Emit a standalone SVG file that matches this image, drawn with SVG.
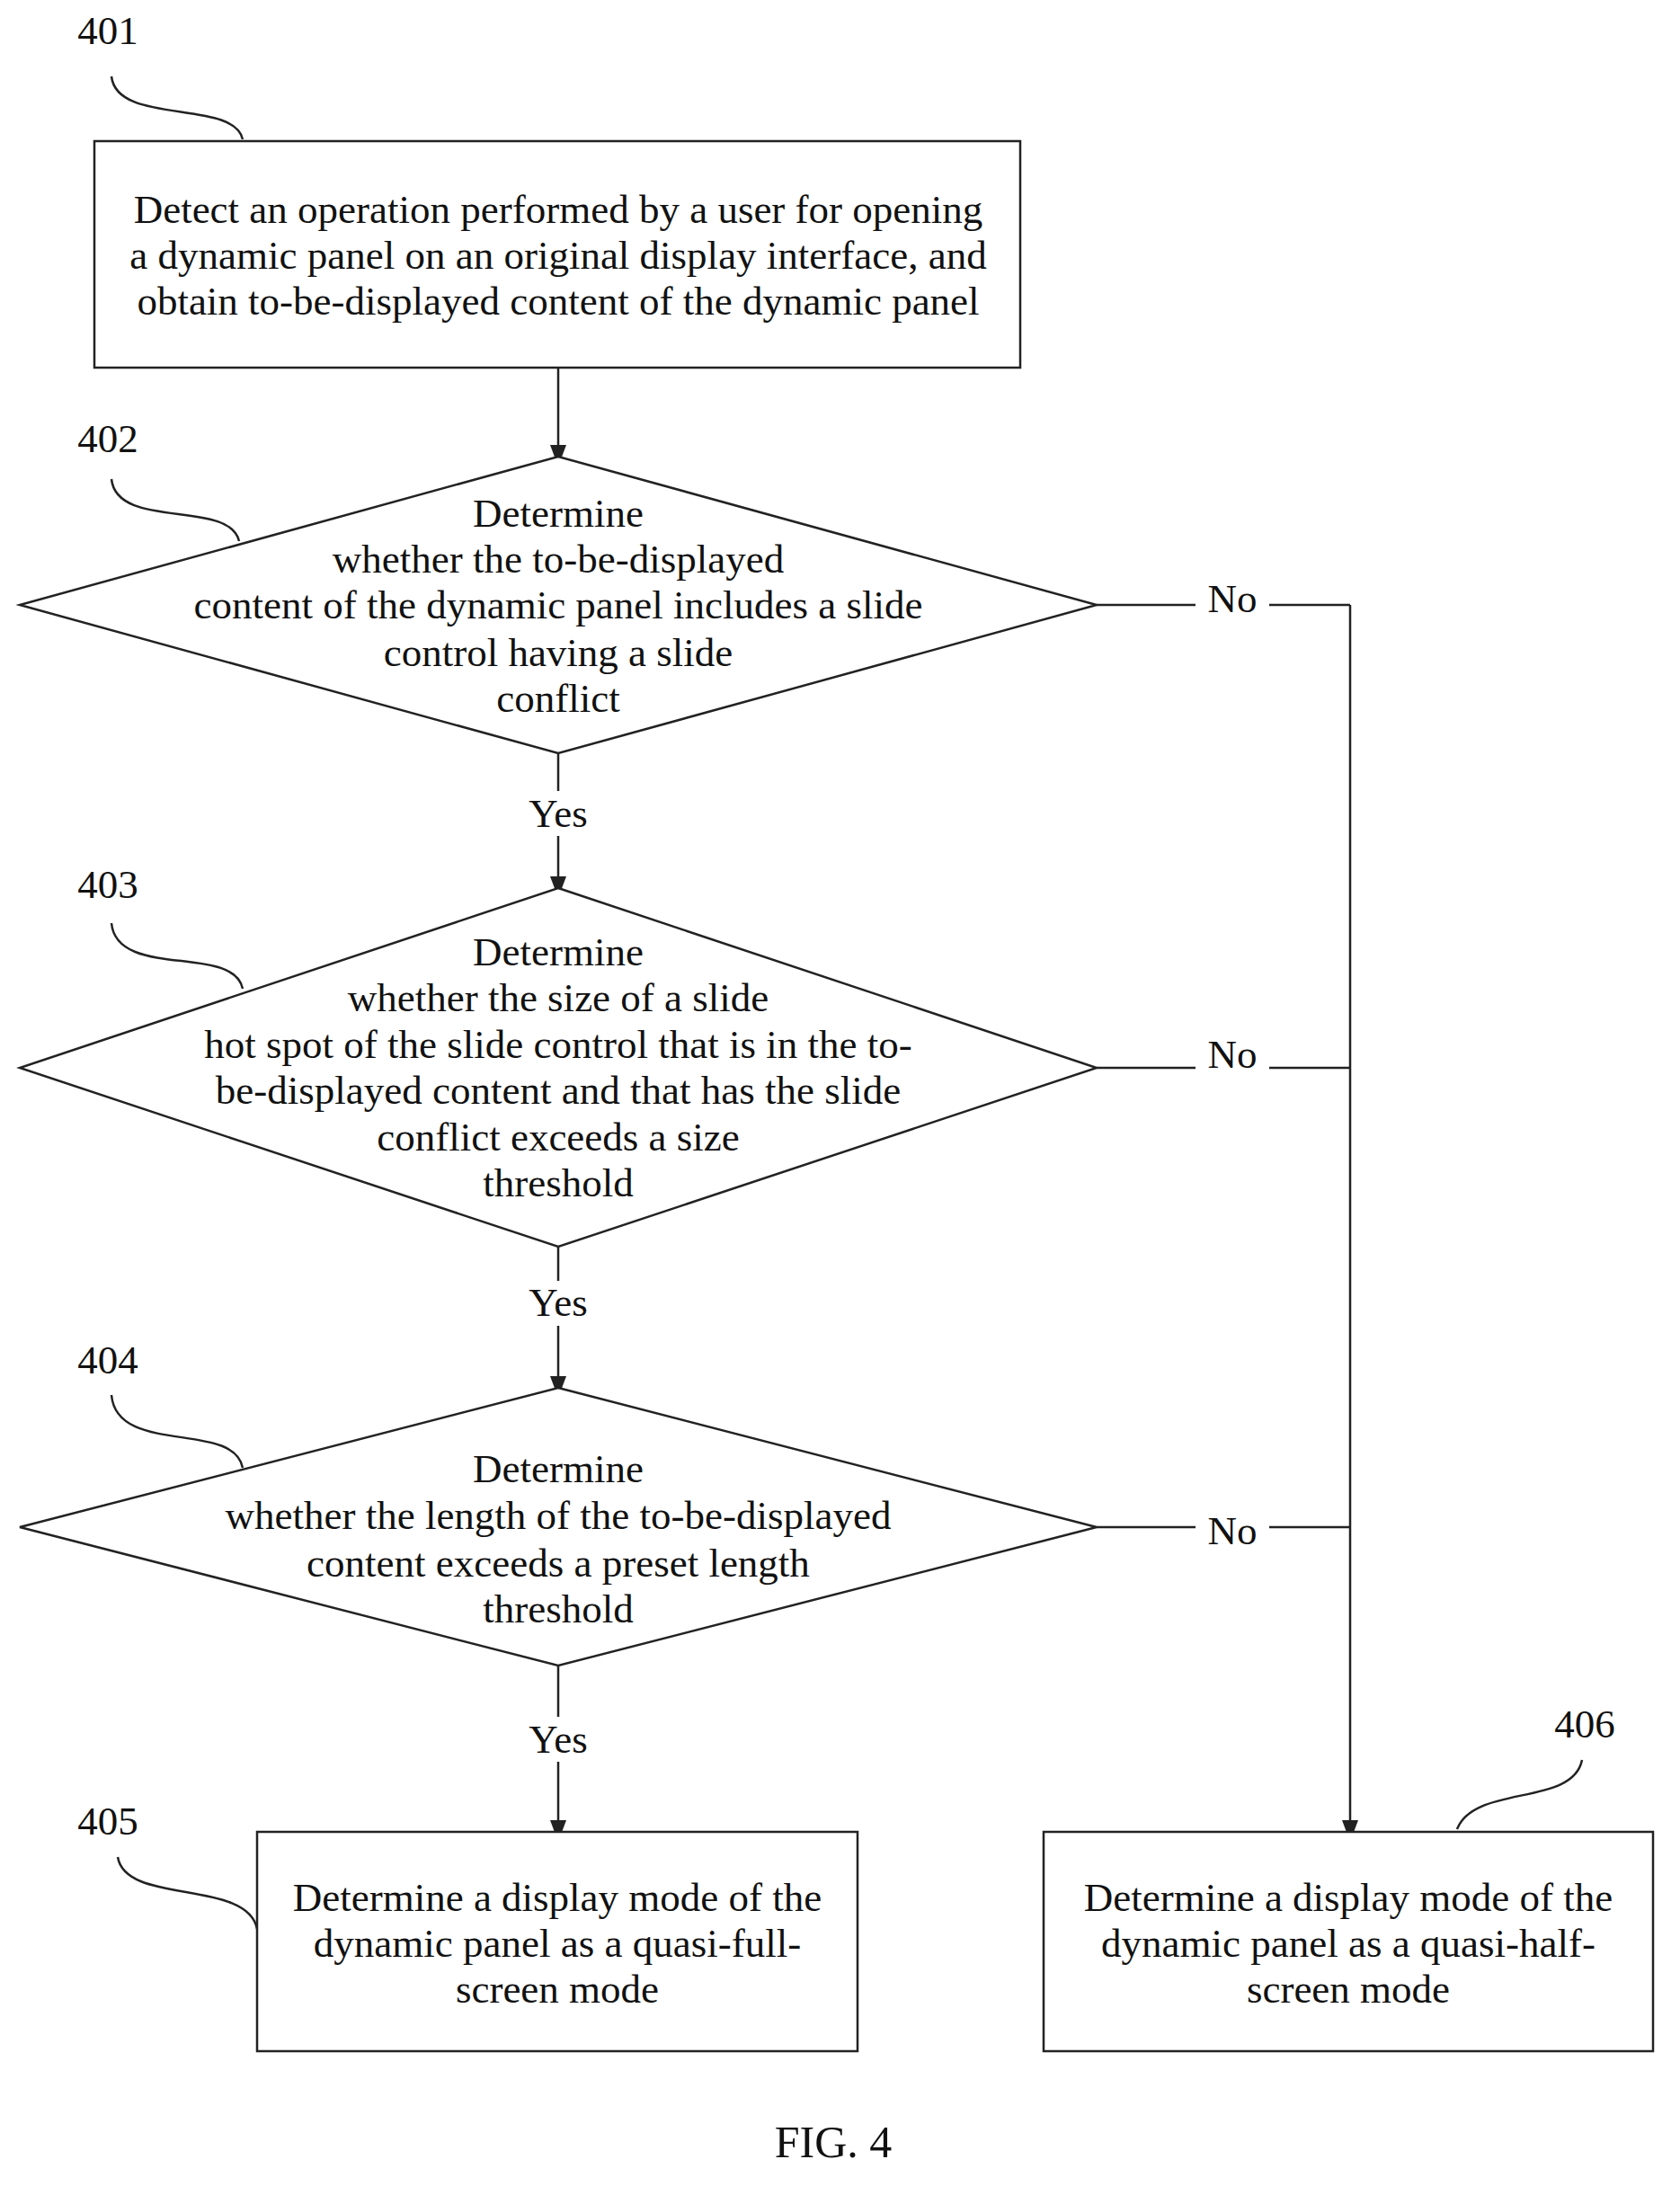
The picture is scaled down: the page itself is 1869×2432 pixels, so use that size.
<svg xmlns="http://www.w3.org/2000/svg" width="1869" height="2432" viewBox="0 0 1869 2432">
<style>
.s{fill:#fff;stroke:#222;stroke-width:2.5}
.l{fill:none;stroke:#222;stroke-width:2.5}
text{font-family:"Liberation Serif",serif;font-size:45px;fill:#111;text-anchor:middle;dominant-baseline:central}
</style>
<defs>
<marker id="b" markerWidth="16" markerHeight="24" refX="11" refY="9" orient="auto" markerUnits="userSpaceOnUse"><path d="M0,0 L24,9 L0,18 Z" fill="#222"/></marker></defs>
<g id="connectors">
<path class="l" d="M621,409 V506" marker-end="url(#b)"/>
<path class="l" d="M621,838 V880"/><path class="l" d="M621,930 V986" marker-end="url(#b)"/>
<path class="l" d="M621,1387 V1425"/><path class="l" d="M621,1475 V1542" marker-end="url(#b)"/>
<path class="l" d="M621,1853 V1910"/><path class="l" d="M621,1960 V2036" marker-end="url(#b)"/>
<path class="l" d="M1220,673 H1330 M1412,673 H1502 M1220,1188 H1330 M1412,1188 H1502 M1220,1699 H1330 M1412,1699 H1502"/>
<path class="l" d="M1502,673 V2036" marker-end="url(#b)"/>
<text x="621" y="905">Yes</text><text x="621" y="1449">Yes</text><text x="621" y="1935">Yes</text>
<text x="1371" y="666">No</text><text x="1371" y="1173">No</text><text x="1371" y="1703">No</text>
<path class="l" d="M124,85 C130,140 260,110 270,155 M124,533 C130,590 255,555 266,602 M124,1027 C130,1090 260,1050 270,1100 M124,1552 C130,1620 260,1580 270,1633 M131,2066 C140,2120 275,2090 286,2146 M1760,1958 C1750,2010 1640,1985 1621,2035"/>
</g>
<g id="n401"><rect class="s" x="105" y="157" width="1030" height="252"/>
<text x="621" y="233">Detect an operation performed by a user for opening</text>
<text x="621" y="284">a dynamic panel on an original display interface, and</text>
<text x="621" y="335">obtain to-be-displayed content of the dynamic panel</text>
<text x="120" y="34">401</text></g>
<g id="n402"><polygon class="s" points="621,508 1220,673 621,838 22,673"/>
<text x="621" y="571">Determine</text><text x="621" y="622">whether the to-be-displayed</text><text x="621" y="673">content of the dynamic panel includes a slide</text><text x="621" y="726">control having a slide</text><text x="621" y="777">conflict</text>
<text x="120" y="488">402</text></g>
<g id="n403"><polygon class="s" points="621,988 1220,1188 621,1387 22,1188"/>
<text x="621" y="1059">Determine</text><text x="621" y="1110">whether the size of a slide</text><text x="621" y="1162">hot spot of the slide control that is in the to-</text><text x="621" y="1213">be-displayed content and that has the slide</text><text x="621" y="1265">conflict exceeds a size</text><text x="621" y="1316">threshold</text>
<text x="120" y="984">403</text></g>
<g id="n404"><polygon class="s" points="621,1544 1220,1699 621,1853 22,1699"/>
<text x="621" y="1634">Determine</text><text x="621" y="1686">whether the length of the to-be-displayed</text><text x="621" y="1739">content exceeds a preset length</text><text x="621" y="1790">threshold</text>
<text x="120" y="1513">404</text></g>
<g id="n405"><rect class="s" x="286" y="2038" width="668" height="244"/>
<text x="620" y="2111">Determine a display mode of the</text><text x="620" y="2162">dynamic panel as a quasi-full-</text><text x="620" y="2213">screen mode</text>
<text x="120" y="2026">405</text></g>
<g id="n406"><rect class="s" x="1161" y="2038" width="678" height="244"/>
<text x="1500" y="2111">Determine a display mode of the</text><text x="1500" y="2162">dynamic panel as a quasi-half-</text><text x="1500" y="2213">screen mode</text>
<text x="1763" y="1918">406</text></g>
<text x="927" y="2383" style="font-size:50px">FIG. 4</text>
</svg>
